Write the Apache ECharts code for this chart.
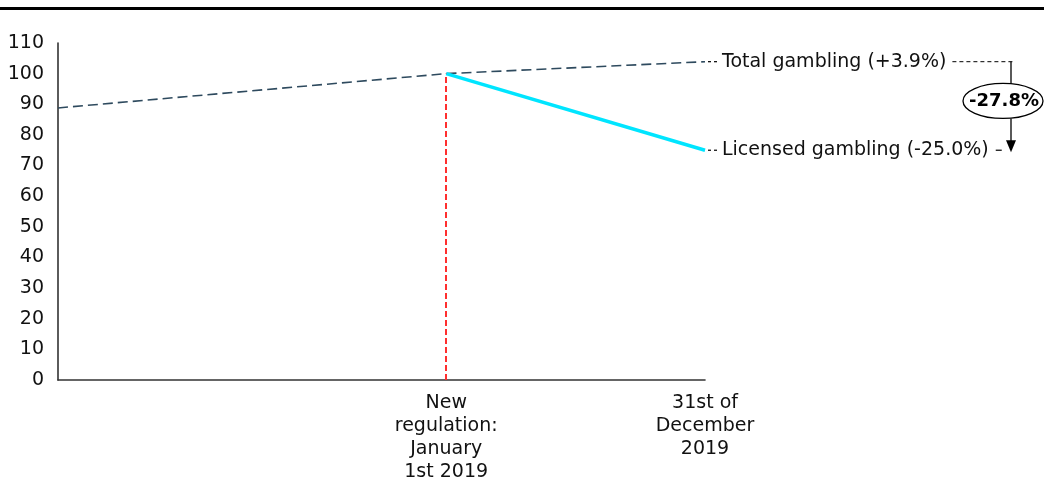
<!DOCTYPE html>
<html>
<head>
<meta charset="utf-8">
<script src="https://cdn.jsdelivr.net/npm/echarts@6/dist/echarts.min.js"></script>
<style>
  html, body { margin: 0; padding: 0; background: #fff; }
  #chart { width: 1044px; height: 481px; }
</style>
</head>
<body>
<div id="chart"></div>
<script>
// Half-year periods; only the regulation date and year end carry a label
const periods = ['', '', '', 'New\nregulation:\nJanuary\n1st 2019', '', '31st of\nDecember\n2019'];
// Index, 1 January 2019 = 100
const totalIdx = [0, 3, 5];
const totalValues = [88.8, 100, 103.9];
const licensedIdx = [3, 5];
const licensedValues = [100, 75.0];
const regulationIdx = 3;
const baseValue = 100;
const yMin = 0, yMax = 110, yStep = 10;

const FONT = '"DejaVu Sans", sans-serif';
const FS = 19;

const pair = (idx, vals) => idx.map((x, i) => [x, vals[i]]);
const pct = (v, digits) => (v >= 0 ? '+' : '') + v.toFixed(digits) + '%';

const totalEnd = totalValues[totalValues.length - 1];
const licensedEnd = licensedValues[licensedValues.length - 1];
const totalLabel = 'Total gambling (' + pct((totalEnd / baseValue - 1) * 100, 1) + ')';
const licensedLabel = 'Licensed gambling (' + pct((licensedEnd / baseValue - 1) * 100, 1) + ')';
const gapLabel = pct((licensedEnd / totalEnd - 1) * 100, 1);

const chart = echarts.init(document.getElementById('chart'), null, { renderer: 'canvas' });

chart.setOption({
  animation: false,
  backgroundColor: '#ffffff',
  grid: { left: 58, right: 339, top: 43, bottom: 101, containLabel: false, outerBoundsMode: 'none' },
  xAxis: {
    type: 'category',
    data: periods,
    boundaryGap: false,
    axisLine: { lineStyle: { color: '#333', width: 1.6 } },
    axisTick: { show: false },
    axisLabel: {
      interval: 0,
      color: '#111',
      fontFamily: FONT,
      fontSize: FS,
      lineHeight: 23,
      margin: 12,
      align: 'center'
    },
    splitLine: { show: false }
  },
  yAxis: {
    type: 'value',
    min: yMin,
    max: yMax,
    interval: yStep,
    axisLine: { show: true, lineStyle: { color: '#333', width: 1.6 } },
    axisTick: { show: false },
    axisLabel: { color: '#111', fontFamily: FONT, fontSize: FS, margin: 14 },
    splitLine: { show: false }
  },
  series: [
    {
      name: 'Total gambling',
      type: 'line',
      data: pair(totalIdx, totalValues),
      symbol: 'none',
      lineStyle: { color: '#2e4a5e', width: 1.6, type: [10, 5] },
      z: 3
    },
    {
      name: 'Licensed gambling',
      type: 'line',
      data: pair(licensedIdx, licensedValues),
      symbol: 'none',
      lineStyle: { color: '#00e5ff', width: 3.5 },
      z: 4,
      markLine: {
        silent: true,
        symbol: 'none',
        label: { show: false },
        lineStyle: { color: '#ff2f2f', width: 2, type: [6, 3] },
        data: [[{ coord: [regulationIdx, yMin] }, { coord: [regulationIdx, baseValue] }]]
      }
    }
  ]
});

// Text widths for placing the leader dashes
const measure = (() => {
  const ctx = document.createElement('canvas').getContext('2d');
  return (text, weight) => {
    ctx.font = (weight || 'normal') + ' ' + FS + 'px ' + FONT;
    return ctx.measureText(text).width;
  };
})();

function annotations() {
  const pT = chart.convertToPixel({ gridIndex: 0 }, [totalIdx[totalIdx.length - 1], totalEnd]);
  const pL = chart.convertToPixel({ gridIndex: 0 }, [licensedIdx[licensedIdx.length - 1], licensedEnd]);
  const dash = { stroke: '#000', lineWidth: 1.2, lineDash: [3, 3] };
  const textStyle = { font: FS + 'px ' + FONT, fill: '#111', verticalAlign: 'middle', align: 'left' };
  const bx = pT[0] + 306;
  const tx = pT[0] + 17;
  const wT = measure(totalLabel);
  const wL = measure(licensedLabel);
  const cy = (pT[1] + pL[1]) / 2 - 5;
  const rx = 40, ry = 17.5, cx = bx - 8;

  return [
    { type: 'rect', shape: { x: 0, y: 7, width: 1044, height: 3 }, style: { fill: '#000' }, silent: true },
    // total label and its leaders
    { type: 'line', shape: { x1: pT[0] + 3, y1: pT[1], x2: tx - 2, y2: pT[1] }, style: dash, silent: true },
    { type: 'text', x: tx, y: pT[1], style: Object.assign({ text: totalLabel }, textStyle), silent: true },
    { type: 'line', shape: { x1: tx + wT + 6, y1: pT[1], x2: bx + 3, y2: pT[1] }, style: { stroke: '#000', lineWidth: 1, lineDash: [4, 3] }, silent: true },
    // licensed label and its leaders
    { type: 'line', shape: { x1: pL[0] + 3, y1: pL[1], x2: tx - 2, y2: pL[1] }, style: dash, silent: true },
    { type: 'text', x: tx, y: pL[1], style: Object.assign({ text: licensedLabel }, textStyle), silent: true },
    { type: 'line', shape: { x1: tx + wL + 7, y1: pL[1], x2: tx + wL + 13, y2: pL[1] }, style: { stroke: '#000', lineWidth: 1.2 }, silent: true },
    // gap bracket with arrow
    { type: 'line', shape: { x1: bx, y1: pT[1], x2: bx, y2: cy - ry }, style: { stroke: '#000', lineWidth: 1.3 }, silent: true },
    { type: 'line', shape: { x1: bx, y1: cy + ry, x2: bx, y2: pL[1] - 8 }, style: { stroke: '#000', lineWidth: 1.3 }, silent: true },
    { type: 'polygon', shape: { points: [[bx - 5, pL[1] - 10], [bx + 5, pL[1] - 10], [bx, pL[1] + 2]] }, style: { fill: '#000' }, silent: true },
    { type: 'ellipse', shape: { cx: cx, cy: cy, rx: rx, ry: ry }, style: { fill: '#fff', stroke: '#000', lineWidth: 1.3 }, z: 10, silent: true },
    { type: 'text', x: cx + 1, y: cy, z: 11, style: { text: gapLabel, font: 'bold 18px ' + FONT, fill: '#000', align: 'center', verticalAlign: 'middle' }, silent: true }
  ];
}

chart.setOption({ graphic: annotations() });
</script>
</body>
</html>
